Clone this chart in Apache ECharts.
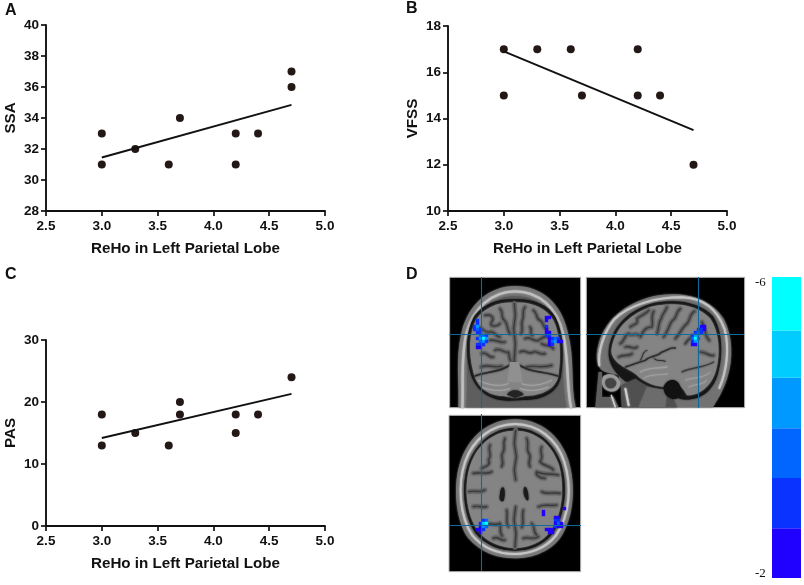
<!DOCTYPE html>
<html>
<head>
<meta charset="utf-8">
<style>html,body{margin:0;padding:0;background:#fff}#main{width:804px;height:585px}</style>
<script src="https://cdn.jsdelivr.net/npm/echarts@6/dist/echarts.min.js"></script>
</head>
<body>
<div id="main"></div>
<script>
// panel A
var ssaX = [3.0, 3.0, 3.3, 3.6, 3.7, 4.2, 4.2, 4.4, 4.7, 4.7];
var ssaY = [33, 31, 32, 31, 34, 33, 31, 33, 37, 36];
var ssaFit = [[3.0, 31.45], [4.7, 34.85]];
// panel B
var vfssX = [3.0, 3.0, 3.3, 3.6, 3.7, 4.2, 4.2, 4.4, 4.7];
var vfssY = [17, 15, 17, 17, 15, 17, 15, 15, 12];
var vfssFit = [[3.0, 16.9], [4.7, 13.5]];
// panel C
var pasX = [3.0, 3.0, 3.3, 3.6, 3.7, 3.7, 4.2, 4.2, 4.4, 4.7];
var pasY = [18, 13, 15, 13, 20, 18, 18, 15, 18, 24];
var pasFit = [[3.0, 14.2], [4.7, 21.3]];

// colour bar, bottom to top
var barColors = ['#2000ff', '#0a33ff', '#0066ff', '#0099ff', '#00ccff', '#00ffff'];
var barBands = [0.66, 0.67, 0.66, 0.67, 0.63, 0.71];

// active voxels [col, row, level]
var coronalVoxels = [
  [9,14,1],[9,15,1],[8,16,1],[9,16,3],[8,17,1],[9,17,2],[10,17,1],[9,18,1],[10,18,1],
  [10,19,2],[11,19,2],[12,19,1],[9,20,1],[10,20,3],[11,20,5],[12,20,3],[10,21,2],[11,21,3],[12,21,1],
  [9,22,1],[10,22,1],[11,22,1],[9,23,0],[10,23,0],
  [32,13,0],[33,13,0],[32,14,0],[32,16,1],[32,17,0],[32,18,0],[33,18,0],[32,19,1],[33,19,1],
  [33,20,0],[34,20,1],[35,20,2],[36,20,1],[33,21,0],[34,21,2],[35,21,3],[36,21,0],[37,21,0],[33,22,0],[34,22,1]
];
var sagittalVoxels = [
  [38,16,0],[39,16,0],[37,17,1],[38,17,1],[39,17,0],[36,18,1],[37,18,2],[38,18,1],
  [35,19,1],[36,19,3],[37,19,3],[35,20,2],[36,20,5],[37,20,2],[35,21,1],[36,21,3],[35,22,0],[36,22,0]
];
var axialVoxels = [
  [11,35,1],[12,35,2],[10,36,1],[11,36,4],[12,36,5],[10,37,0],[11,37,3],[12,37,2],
  [9,38,0],[10,38,0],[11,38,1],[10,39,0],
  [38,31,0],[31,32,0],[31,33,0],[35,34,0],[36,34,0],[35,35,1],[36,35,1],[35,36,0],[36,36,2],[37,36,0],
  [35,37,1],[36,37,0],[37,37,0],[32,38,0],[33,38,0],[34,38,0],[33,39,0],[34,39,0]
];

var ink = '#111';
var font = '"Liberation Sans", Arial, sans-serif';

function plotAxes(i, xTitle, yTitle, yMin, yMax, yStep) {
  return {
    x: {
      type: 'value', gridIndex: i, min: 2.5, max: 5, interval: 0.5,
      name: xTitle, nameLocation: 'middle', nameGap: 30,
      nameTextStyle: { color: ink, fontFamily: font, fontWeight: 'bold', fontSize: 15.2 },
      axisLine: { onZero: false, lineStyle: { color: ink, width: 1.9 } },
      axisTick: { length: 5, lineStyle: { color: ink, width: 1.7 } },
      axisLabel: { color: ink, fontFamily: font, fontWeight: 'bold', fontSize: 13.5, margin: 8,
        formatter: function (v) { return v.toFixed(1); } },
      splitLine: { show: false }
    },
    y: {
      type: 'value', gridIndex: i, min: yMin, max: yMax, interval: yStep,
      name: yTitle, nameLocation: 'middle', nameGap: 28,
      nameTextStyle: { color: ink, fontFamily: font, fontWeight: 'bold', fontSize: 15.2 },
      axisLine: { onZero: false, lineStyle: { color: ink, width: 1.9 } },
      axisTick: { length: 5, lineStyle: { color: ink, width: 1.7 } },
      axisLabel: { color: ink, fontFamily: font, fontWeight: 'bold', fontSize: 13.5, margin: 7 },
      splitLine: { show: false }
    }
  };
}

function zip(a, b) {
  return a.map(function (v, i) { return [v, b[i]]; });
}

var a = plotAxes(0, 'ReHo in Left Parietal Lobe', 'SSA', 28, 40, 2);
var b = plotAxes(1, 'ReHo in Left Parietal Lobe', 'VFSS', 10, 18, 2);
var c = plotAxes(2, 'ReHo in Left Parietal Lobe', 'PAS', 0, 30, 10);

function hiddenAxis(i, max, inverse) {
  return { type: 'value', gridIndex: i, min: 0, max: max, inverse: inverse, show: false };
}

var xAxes = [a.x, b.x, c.x,
  hiddenAxis(3, 131 / 3), hiddenAxis(4, 158 / 3), hiddenAxis(5, 132 / 3),
  { type: 'category', gridIndex: 6, data: ['t'], show: false }];
var yAxes = [a.y, b.y, c.y,
  hiddenAxis(3, 131 / 3, true), hiddenAxis(4, 131 / 3, true), hiddenAxis(5, 157 / 3, true),
  { type: 'value', gridIndex: 6, min: 0, max: 4, show: false }];

var grids = [
  { left: 46, top: 25, width: 279, height: 186 },
  { left: 448, top: 26, width: 279, height: 185 },
  { left: 46, top: 340, width: 279, height: 186 },
  { left: 449, top: 277, width: 131, height: 131 },
  { left: 586, top: 277, width: 158, height: 131 },
  { left: 449, top: 414, width: 132, height: 157 },
  { left: 772, top: 277, width: 29, height: 301 }
];

function dots(i, x, y) {
  return { type: 'scatter', xAxisIndex: i, yAxisIndex: i, data: zip(x, y), symbolSize: 8,
    itemStyle: { color: '#231815', opacity: 1 } };
}
function fit(i, pts) {
  return { type: 'line', xAxisIndex: i, yAxisIndex: i, data: pts, showSymbol: false,
    lineStyle: { color: ink, width: 1.9 } };
}
function voxels(i, list) {
  return { type: 'scatter', xAxisIndex: i, yAxisIndex: i, symbol: 'rect', symbolSize: 3.4,
    data: list.map(function (v) { return { value: [v[0] + 0.5, v[1] + 0.5],
      itemStyle: { color: barColors[v[2]], opacity: 1 } }; }) };
}

var series = [
  dots(0, ssaX, ssaY), fit(0, ssaFit),
  dots(1, vfssX, vfssY), fit(1, vfssFit),
  dots(2, pasX, pasY), fit(2, pasFit),
  voxels(3, coronalVoxels), voxels(4, sagittalVoxels), voxels(5, axialVoxels)
];
barBands.forEach(function (h, i) {
  series.push({ type: 'bar', xAxisIndex: 6, yAxisIndex: 6, stack: 'bar', barWidth: '100%',
    data: [h], itemStyle: { color: barColors[i] } });
});

// anatomy underlay, drawn in 3x crop coordinates
var shapeCount = 0;
function pathType(d) {
  var name = 'brainPath' + (shapeCount++);
  echarts.graphic.registerShape(name, echarts.graphic.extendPath(d, {}));
  return name;
}
function F(d, color) {
  return { type: pathType(d), style: { fill: color, stroke: null, shadowBlur: 2, shadowColor: color }, silent: true };
}
function S(d, color, w) {
  return { type: pathType(d),
    style: { fill: null, stroke: color, lineWidth: w, lineCap: 'round', lineJoin: 'round',
      shadowBlur: 2, shadowColor: color }, silent: true };
}
function R(x, y, w, h) {
  return { type: 'rect', shape: { x: x, y: y, width: w, height: h },
    style: { fill: '#000', stroke: '#b5b5b5', lineWidth: 3 }, silent: true };
}
// each sulcus: a darker cortical ribbon with the dark fold on top
function sulci(list) {
  return list.map(function (d) { return S(d, '#696969', 13); })
    .concat(list.map(function (d) { return S(d, '#3a3a3a', 3.5); }));
}

var coronalKids = [
  R(14, 16, 393, 391),
  F('M40 406 C44 340 30 260 50 180 C70 95 135 42 210 42 C290 42 350 95 368 180 C390 260 376 340 392 406 Z', '#767676'),
  S('M52 406 C56 340 46 260 64 185 C84 108 142 58 210 58 C283 58 336 108 354 185 C372 260 364 340 378 406', '#c0c0c0', 7),
  F('M64 406 C70 340 60 260 74 190 C92 118 147 72 210 72 C276 72 324 118 342 190 C356 260 350 340 364 406 Z', '#5e5e5e'),
  F('M76 300 C60 240 64 170 90 130 C120 92 165 80 210 82 C262 80 310 97 332 137 C354 180 358 250 348 310 C342 362 290 386 235 384 L190 386 C130 386 88 350 76 300 Z', '#161616'),
  F('M85 300 C70 240 72 180 95 140 C120 105 165 88 210 92 C258 88 305 108 325 145 C345 185 350 250 340 310 C335 350 290 372 240 372 L210 378 L175 372 C130 372 95 345 85 300 Z', '#848484')
].concat(sulci([
  'M208 94 L211 130 L206 170 L211 215 L208 262',
  'M120 130 C135 125 150 135 140 150 C130 165 155 165 165 155',
  'M165 110 C178 125 165 135 178 145 C190 155 185 175 195 185',
  'M240 105 C228 120 240 130 232 145 C225 160 238 170 228 185',
  'M265 115 C280 125 270 140 285 145 C298 150 290 165 305 170',
  'M100 165 C115 170 120 185 135 180 C150 175 150 195 165 195',
  'M135 205 C150 200 165 215 180 210',
  'M240 200 C255 190 262 210 280 205 C290 200 295 190 310 195',
  'M255 165 C265 175 250 185 262 190',
  'M150 235 C165 225 175 245 190 240 C195 250 190 260 198 268',
  'M225 240 C240 230 250 250 265 240 C275 235 285 250 300 245',
  'M110 245 C125 235 130 260 145 255',
  'M290 215 C305 225 315 215 325 230',
  'M108 285 C130 275 150 290 170 282',
  'M245 285 C265 278 290 290 320 280'
])).concat([
  S('M90 312 C130 295 170 305 208 268 C250 305 290 295 338 312', '#2a2a2a', 5),
  F('M195 270 L222 270 L232 330 L188 330 Z', '#909090'),
  S('M100 325 C130 340 165 345 190 335', '#a4a4a4', 3),
  S('M110 345 C140 358 170 358 195 350', '#a4a4a4', 3),
  S('M320 325 C290 340 255 345 230 335', '#a4a4a4', 3),
  S('M310 345 C280 358 250 358 225 350', '#a4a4a4', 3),
  F('M186 368 C195 350 225 350 236 368 L210 378 Z', '#242424')
]);

var sagittalKids = [
  R(13, 16, 475, 391),
  F('M120 406 L118 350 L110 310 L70 300 C45 290 38 260 50 215 C70 140 140 85 230 70 C310 58 385 80 425 140 C452 190 455 260 435 320 C422 360 405 385 392 406 Z', '#727272'),
  S('M52 280 C47 240 64 182 97 142 C142 98 220 76 300 76 C362 78 406 112 428 172 C443 230 434 298 412 348', '#c4c4c4', 6),
  F('M80 238 C86 172 132 118 206 96 C270 80 348 86 392 132 C420 172 425 245 408 304 C392 362 350 388 300 382 L130 328 C96 300 78 272 80 238 Z', '#161616'),
  F('M88 240 C92 180 135 130 205 105 C270 88 345 95 385 140 C412 180 416 245 402 295 C388 345 350 372 315 370 C300 340 275 320 255 345 C225 345 190 335 165 310 C145 290 95 280 88 240 Z', '#848484'),
  F('M120 406 L118 340 L160 320 C200 350 240 360 262 352 L285 406 Z', '#505050'),
  F('M170 405 L195 345 L255 355 L250 405 Z', '#6c6c6c'),
  F('M245 345 C255 320 285 315 295 345 C300 365 290 385 270 380 C255 375 245 365 245 345 Z', '#111'),
  F('M50 300 L60 300 L60 375 L95 375 L110 406 L40 406 Z', '#5e5e5e'),
  F('M65 312 C85 300 112 310 115 335 C112 360 85 365 68 350 C58 340 58 322 65 312 Z', '#9c9c9c'),
  F('M74 322 C85 314 102 320 103 334 C100 350 84 352 75 345 C68 338 68 328 74 322 Z', '#444'),
  S('M130 350 L140 400', '#d0d0d0', 6),
  S('M88 370 L100 405', '#d0d0d0', 4)
].concat(sulci([
  'M115 215 C130 205 125 190 140 185 C150 195 160 180 170 190',
  'M145 165 C155 155 170 160 165 140 C175 130 195 125 200 115',
  'M175 195 C185 175 190 165 210 165 C215 150 205 135 215 118',
  'M225 185 C232 170 228 150 238 140 C240 125 250 120 255 105',
  'M245 195 C260 175 262 155 272 145 C285 140 280 120 295 110',
  'M280 200 C295 185 300 165 315 155 C325 145 322 125 338 118',
  'M310 215 C320 200 330 190 345 190',
  'M360 150 C372 170 365 190 382 205',
  'M355 240 C372 240 385 255 395 250',
  'M110 255 C125 245 140 255 150 245',
  'M130 225 C145 220 155 235 165 225'
])).concat([
  S('M130 285 C155 278 170 270 190 265 C205 250 225 255 240 240 C255 235 265 225 280 228', '#2c2c2c', 4),
  S('M175 265 C185 250 180 240 195 235', '#2c2c2c', 3),
  S('M215 258 C225 270 235 262 250 268', '#2c2c2c', 3),
  S('M175 300 C200 285 230 290 255 285', '#a0a0a0', 4),
  S('M185 318 C210 305 235 310 258 305', '#a0a0a0', 3),
  S('M300 300 C325 285 360 290 395 270', '#3a3a3a', 4),
  S('M310 325 C335 315 365 320 385 300', '#a0a0a0', 3),
  S('M320 345 C340 335 360 340 375 325', '#a0a0a0', 3)
]);

var axialKids = [
  R(12, 16, 395, 469),
  F('M210 28 C285 28 345 75 370 150 C392 220 390 320 345 385 C310 430 255 445 210 445 C160 445 110 430 70 385 C30 330 22 220 48 150 C75 75 135 28 210 28 Z', '#767676'),
  S('M210 42 C278 42 336 87 358 156 C380 225 376 314 333 376 C300 418 250 432 210 432 C165 432 117 418 82 376 C44 320 37 225 60 156 C84 87 142 42 210 42 Z', '#c6c6c6', 6),
  F('M210 54 C274 54 326 97 348 161 C368 225 363 311 323 370 C294 408 250 422 210 422 C168 422 124 408 92 370 C54 314 48 225 70 161 C94 97 146 54 210 54 Z', '#141414'),
  F('M210 62 C270 62 320 100 342 165 C358 225 356 310 316 364 C290 400 248 414 210 414 C172 414 128 400 100 364 C62 312 56 225 76 165 C98 100 150 62 210 62 Z', '#848484')
].concat(sulci([
  'M212 60 L208 100 L214 140 L208 180 L212 210',
  'M212 290 L207 330 L213 370 L210 412',
  'M180 85 C170 105 185 115 172 130 C165 145 180 155 170 170',
  'M245 85 C255 105 240 115 252 130 C262 145 245 155 255 170',
  'M135 105 C125 125 145 130 130 150 C140 165 120 170 110 175',
  'M290 110 C280 130 300 135 285 155 C295 170 315 165 325 180',
  'M85 190 C105 185 125 195 140 185',
  'M340 195 C320 190 295 195 275 185 C270 195 285 205 300 205',
  'M72 245 C90 240 105 250 120 240',
  'M345 250 C325 245 305 255 290 245',
  'M85 290 C100 285 110 295 125 290',
  'M335 285 C320 290 305 280 280 290',
  'M120 345 C135 335 150 350 165 340 C170 355 160 365 172 378',
  'M260 340 C272 350 262 365 275 375',
  'M145 385 C160 375 165 395 180 390',
  'M235 385 C250 378 260 392 280 380',
  'M185 300 C190 320 180 335 190 350',
  'M235 300 C228 320 240 335 230 352'
])).concat([
  F('M172 232 C180 230 182 255 176 272 C170 278 162 270 164 258 C166 245 166 236 172 232 Z', '#1a1a1a'),
  F('M240 230 C247 232 252 255 250 270 C246 276 238 262 236 250 C235 240 236 232 240 230 Z', '#1a1a1a')
]);

function crossLine(x1, y1, x2, y2) {
  return { type: 'line', shape: { x1: x1, y1: y1, x2: x2, y2: y2 }, z: 50, silent: true,
    style: { stroke: '#10689e', lineWidth: 1.1 } };
}
function letter(t, x, y) {
  return { type: 'text', x: x, y: y, z: 50,
    style: { text: t, fill: '#111', font: 'bold 16px ' + font, textVerticalAlign: 'middle' } };
}
function serifLabel(t, x, y) {
  return { type: 'text', x: x, y: y, z: 50,
    style: { text: t, fill: '#111', font: '13px "Liberation Serif", serif', textVerticalAlign: 'middle' } };
}

var graphic = [
  { type: 'group', x: 445, y: 272, scaleX: 1 / 3, scaleY: 1 / 3, children: coronalKids },
  { type: 'group', x: 582, y: 272, scaleX: 1 / 3, scaleY: 1 / 3, children: sagittalKids },
  { type: 'group', x: 445, y: 410, scaleX: 1 / 3, scaleY: 1 / 3, children: axialKids },
  crossLine(449.5, 334.5, 580.5, 334.5), crossLine(481.5, 277, 481.5, 408),
  crossLine(586, 334.5, 744, 334.5), crossLine(698.5, 277, 698.5, 408),
  crossLine(449, 525.5, 581, 525.5), crossLine(481.5, 414, 481.5, 571),
  letter('A', 5, 11), letter('B', 406, 9), letter('C', 5, 275), letter('D', 406, 275),
  serifLabel('-6', 755, 283), serifLabel('-2', 755, 574)
];

var myChart = echarts.init(document.getElementById('main'), null, { renderer: 'canvas' });
myChart.setOption({
  animation: false,
  backgroundColor: '#fff',
  grid: grids,
  xAxis: xAxes,
  yAxis: yAxes,
  series: series,
  graphic: graphic
});
</script>
</body>
</html>
